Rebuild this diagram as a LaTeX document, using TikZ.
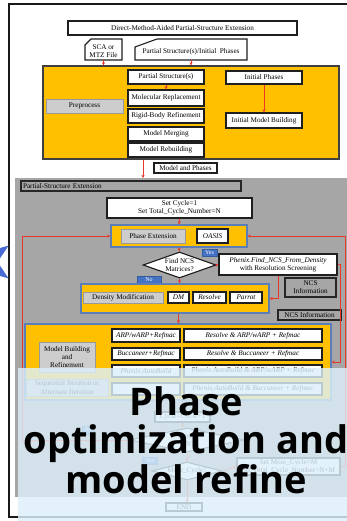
\documentclass[tikz,border=0pt]{standalone}
\usepackage{fontspec}
\setmainfont{Liberation Serif}
\newfontfamily\bigfont{Open Sans}
\usetikzlibrary{shapes.geometric,arrows.meta,calc}
\definecolor{yel}{HTML}{FFC000}
\definecolor{grayreg}{HTML}{A6A6A6}
\definecolor{gboxc}{HTML}{CDCDCD}
\definecolor{bborder}{HTML}{5B7DB8}
\definecolor{lblue}{HTML}{4472C4}
\definecolor{redl}{HTML}{E8382B}
\definecolor{ovl}{HTML}{DDF0FA}
\definecolor{starblue}{HTML}{4A6BD6}
\newcommand\smf{\fontsize{7.2}{8.2}\selectfont}
\newcommand\tinyf{\fontsize{6}{7}\selectfont}
\tikzset{
 sz/.style 2 args={minimum width=#1, minimum height=#2},
 box/.style={draw=black!88, line width=1.1pt, fill=white, inner sep=0pt, align=center, font=\smf},
 ibox/.style={box, font=\smf\itshape},
 gbox/.style={draw=black!40, line width=0.8pt, fill=gboxc, inner sep=0pt, align=center, font=\smf},
 rbox/.style={draw=black!85, line width=1.1pt, fill=grayreg, inner sep=0pt, align=center, font=\smf},
 ctn/.style={draw=bborder, line width=1.1pt, fill=yel, inner sep=0pt},
 ybox/.style={draw=black!75, line width=1.1pt, fill=yel, inner sep=0pt},
 lbl/.style={fill=lblue, draw=lblue!80!black, line width=0.5pt, text=white, inner sep=0pt, font=\tinyf},
 dia/.style={diamond, draw=black!90, line width=1.1pt, fill=white, inner sep=0pt},
 arr/.style={draw=redl, line width=0.9pt, -{Stealth[length=3.2pt,width=3.2pt]}},
 big/.style={font=\bigfont\bfseries\fontsize{38}{40}\selectfont, inner sep=0pt, anchor=base},
 shapeline/.style={draw=black!88, line width=1.1pt, fill=white},
}
\begin{document}
\begin{tikzpicture}[x=1pt,y=-1pt]
\useasboundingbox (0,0) rectangle (347,521);
\clip (0,0) rectangle (347,521);
\fill[white] (0,0) rectangle (347,521);
\draw[line width=1.6pt, black!90] (9,4) rectangle (365,517);

% top section
\node[box, sz={229}{14}] (title) at (182.5,28) {Direct-Method-Aided Partial-Structure Extension};
\path[shapeline] (85,60) -- (122,60) -- (122,39) -- (91,39) -- (85,45) -- cycle;
\node[inner sep=0pt, align=center, font=\smf, sz={37}{18}] (sca) at (103.5,51) {SCA or\\MTZ File};
\path[shapeline] (135,60) -- (247,60) -- (247,39) -- (157,39) -- (135,47) -- cycle;
\node[inner sep=0pt, align=center, font=\smf, sz={112}{16}] (psi) at (191,52) {Partial Structure(s)/Initial\ \ Phases};

\node[ybox, sz={296}{93}] (pre) at (191,112.5) {};
\node[gbox, sz={77}{14}] (prep) at (84.5,106) {Preprocess};
\node[box, sz={76}{14}] (ps) at (166,77) {Partial Structure(s)};
\node[box, sz={76}{16}] (mr) at (166,98) {Molecular Replacement};
\node[box, sz={76}{14}] (rbr) at (166,116) {Rigid-Body Refinement};
\node[box, sz={76}{14}] (mm) at (166,134) {Model Merging};
\node[box, sz={76}{14}] (mrb) at (166,150) {Model Rebuilding};
\node[box, sz={76}{13}] (ip) at (264,77.5) {Initial Phases};
\node[box, sz={76}{15}] (imb) at (264,120.5) {Initial Model Building};
\node[box, sz={63}{10}] (map) at (185.5,168) {Model and Phases};

\draw[arr] (sca.south) -- (sca.south |- pre.north);
\draw[arr] (psi.south) -- (psi.south |- pre.north);
\draw[arr] (ps.south) -- (mr.north);
\draw[arr] (ip.south) -- (imb.north);

% gray region
\node[fill=grayreg, inner sep=0pt, sz={350}{319}, anchor=north west] (psx) at (15,178) {};
\coordinate (mx) at (143,0);
\draw[arr] (pre.south -| mx) -- (psx.north -| mx);
\node[rbox, sz={220}{10}, text width=216pt, align=left] (psel) at (131,186) {Partial-Structure Extension};

\node[box, sz={145}{20}] (setc) at (179.5,208) {Set Cycle=1\\Set Total\_Cycle\_Number=N};
\node[ctn, sz={136}{22}] (pe) at (179,236) {};
\node[gbox, sz={64}{14}] (peg) at (153,236) {Phase Extension};
\node[ibox, sz={31}{14}] (oasis) at (212.5,236) {OASIS};

\node[dia, sz={73}{26}] (ncs) at (179.5,265) {};
\node[font=\smf, align=center, inner sep=0pt] (ncst) at (ncs.center) {Find NCS\\Matrices?};
\node[lbl, sz={15}{7}] (yes1) at (209.5,252.5) {Yes};
\node[box, sz={118}{21}] (phx) at (278,264.5) {\textit{Phenix.Find\_NCS\_From\_Density}\\with Resolution Screening};
\node[lbl, sz={24}{7}] (no1) at (149,279.5) {No};

\node[ctn, sz={188}{29}] (dm) at (175,298.5) {};
\node[gbox, sz={80}{11}] (dmg) at (123,297.5) {Density Modification};
\node[ibox, sz={21}{11}] (dmb) at (178.5,297.5) {DM};
\node[ibox, sz={33}{11}] (resb) at (209.5,297.5) {Resolve};
\node[ibox, sz={32}{11}] (parb) at (246,297.5) {Parrot};

\node[rbox, sz={51}{19}] (ncsi1) at (310.5,287.5) {NCS\\Information};
\node[rbox, sz={63}{10}] (ncsi2) at (309.5,315) {NCS Information};

\node[ctn, sz={306}{76}] (mb) at (178,362) {};
\node[gbox, sz={56}{30}] (mbg) at (67,357) {Model Building\\and\\Refinement};
\node[gbox, sz={82}{17}] (seq) at (67,387.5) {Sequential Iteration or\\Alternate Iteration};
\node[ibox, sz={68}{13}] (l1) at (146,335.5) {ARP/wARP+Refmac};
\node[ibox, sz={68}{12}] (l2) at (146,354) {Buccaneer+Refmac};
\node[ibox, sz={68}{12}] (l3) at (146,371) {Phenix.AutoBuild};
\node[ibox, sz={68}{12}] (l4) at (146,389) {};
\node[ibox, sz={138}{13}] (r1) at (253,335.5) {Resolve \& ARP/wARP + Refmac};
\node[ibox, sz={138}{12}] (r2) at (253,354) {Resolve \& Buccaneer + Refmac};
\node[ibox, sz={138}{12}] (r3) at (253,371) {Phenix.AutoBuild \& ARP/wARP + Refmac};
\node[ibox, sz={138}{12}] (r4) at (253,389) {Phenix.AutoBuild \& Buccaneer + Refmac};

\node[box, sz={55}{10}] (cinc) at (182.5,417) {Cycle=Cycle+1};
\node[dia, sz={115}{24}] (cyc) at (187,440) {};
\node[font=\smf, align=center, inner sep=0pt] (cyct) at (cyc.center) {Cycle\\$>$N?};
\node[lbl, sz={12}{8}] (no2) at (88,430) {No};
\node[lbl, sz={15}{7}] (yes2) at (150,461) {Yes};
\node[dia, sz={70}{18}] (more) at (187,471) {};
\node[font=\smf, inner sep=0pt] (moret) at (more.center) {More\_Cycle?};
\node[box, sz={103}{17}] (setm) at (288.5,466.5) {Set More\_Cycle=M\\Set Total\_Cycle\_Number=N+M};
\node[box, sz={36}{8}] (endb) at (184,507) {END};

% connectors
\draw[arr] (setc.south) -- (pe.north);
\draw[arr] (pe.south) -- (ncs.north);
\draw[arr] (ncs.east) -- (phx.west);
\draw[arr] (ncs.south) -- (ncs.south |- dm.north);
\draw[arr] (phx.south) |- (dm.east);
\coordinate (nx) at (340,0);
\draw[arr] (phx.east) -- (phx.east -| nx) |- (mb.east);
\draw[arr] (dmb.south |- dm.south) -- (dmb.south |- mb.north);
\draw[arr] (cinc.north |- mb.south) -- (cinc.north);
\draw[arr] (cinc.south) -- (cinc.south |- cyc.north);
\draw[arr] (cyc.south) -- (more.north);
\draw[arr] (more.east) -- (setm.west);
\draw[arr] (more.south) -- (more.south |- endb.north);
\coordinate (lx) at (22,0);
\draw[arr] (cyc.west) -- (cyc.west -| lx) |- (pe.west);
\coordinate (rx) at (345.5,0);
\draw[arr] (setm.east) -- (setm.east -| rx) |- (pe.east);

% star
\fill[starblue, shift={(-14,262)}] (0:11.5) -- (36:28) -- (72:11.5) -- (108:28) -- (144:11.5) -- (180:28) -- (216:11.5) -- (252:28) -- (288:11.5) -- (324:28) -- cycle;

% overlay
\fill[ovl, opacity=0.82] (18,368) rectangle (347,521);
\node[big] (t1) at (186,415) {Phase};
\node[big] (t2) at (186,453) {optimization and};
\node[big] (t3) at (186,493) {model refine};
\end{tikzpicture}
\end{document}
